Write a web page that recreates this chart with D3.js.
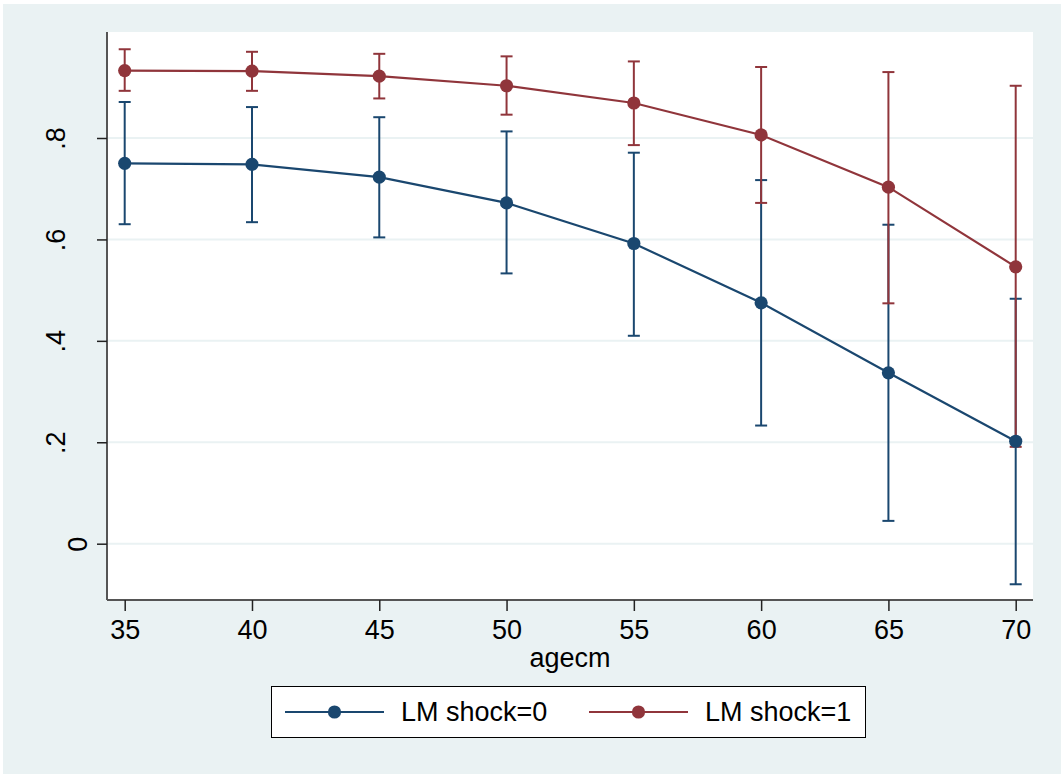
<!DOCTYPE html>
<html lang="en">
<head>
  <meta charset="UTF-8">
  <title>LM shock margins</title>
  <script src="https://cdn.jsdelivr.net/npm/d3@7"></script>
  <style>
    html, body { margin: 0; padding: 0; background: #fff; }
    text { font-family: "Liberation Sans", Arial, sans-serif; fill: #000; }
  </style>
</head>
<body>
  <svg id="chart" width="1064" height="776"></svg>
  <script>
    // data
    var ages = [35, 40, 45, 50, 55, 60, 65, 70]
    var shock0 = [0.750, 0.748, 0.723, 0.672, 0.592, 0.475, 0.337, 0.202]
    var shock0Lo = [0.630, 0.634, 0.604, 0.533, 0.410, 0.233, 0.045, -0.080]
    var shock0Hi = [0.871, 0.861, 0.841, 0.813, 0.771, 0.717, 0.629, 0.483]
    var shock1 = [0.933, 0.932, 0.922, 0.903, 0.869, 0.806, 0.703, 0.546]
    var shock1Lo = [0.893, 0.893, 0.878, 0.846, 0.786, 0.672, 0.474, 0.191]
    var shock1Hi = [0.975, 0.970, 0.966, 0.961, 0.951, 0.940, 0.930, 0.903]
    var yTicks = [0, 0.2, 0.4, 0.6, 0.8]
    var xTicks = ages
    var seriesNames = ['LM shock=0', 'LM shock=1']
    var xTitle = 'agecm'

    // colors
    var colorBlue = '#1a476f'
    var colorRed = '#90353b'
    var colorBg = '#eaf2f3'
    var colorGrid = '#eaf2f3'

    // plot region
    var plot = { left: 107, right: 1033, top: 32, bottom: 600 }

    var svg = d3.select('#chart')

    var x = d3.scaleLinear().domain([35, 70]).range([124.7, 1015.7])
    var y = d3.scaleLinear().domain([0, 0.8]).range([543.7, 138])

    // outer background and plot region
    svg.append('rect').attr('x', 3).attr('y', 4).attr('width', 1058).attr('height', 770)
      .attr('fill', colorBg)
    svg.append('rect').attr('x', plot.left).attr('y', plot.top)
      .attr('width', plot.right - plot.left).attr('height', plot.bottom - plot.top)
      .attr('fill', '#fff')

    // gridlines
    svg.append('g').selectAll('line').data(yTicks).join('line')
      .attr('x1', plot.left).attr('x2', plot.right)
      .attr('y1', function (d) { return y(d) }).attr('y2', function (d) { return y(d) })
      .attr('stroke', colorGrid).attr('stroke-width', 2)

    var series = [
      { name: seriesNames[0], color: colorBlue, mid: shock0, lo: shock0Lo, hi: shock0Hi },
      { name: seriesNames[1], color: colorRed, mid: shock1, lo: shock1Lo, hi: shock1Hi }
    ]

    // confidence intervals first
    series.forEach(function (s) {
      var g = svg.append('g').attr('stroke', s.color).attr('stroke-width', 2)
      g.selectAll('.bar').data(ages).join('line')
        .attr('x1', function (d) { return x(d) }).attr('x2', function (d) { return x(d) })
        .attr('y1', function (d, i) { return y(s.lo[i]) })
        .attr('y2', function (d, i) { return y(s.hi[i]) })
      ;['lo', 'hi'].forEach(function (k) {
        g.append('g').selectAll('line').data(ages).join('line')
          .attr('x1', function (d) { return x(d) - 6 }).attr('x2', function (d) { return x(d) + 6 })
          .attr('y1', function (d, i) { return y(s[k][i]) })
          .attr('y2', function (d, i) { return y(s[k][i]) })
      })
    })

    // connected lines and markers
    var line = d3.line()
    series.forEach(function (s) {
      var pts = ages.map(function (a, i) { return [x(a), y(s.mid[i])] })
      svg.append('path').attr('d', line(pts)).attr('fill', 'none')
        .attr('stroke', s.color).attr('stroke-width', 2.2)
      svg.append('g').selectAll('circle').data(pts).join('circle')
        .attr('cx', function (d) { return d[0] }).attr('cy', function (d) { return d[1] })
        .attr('r', 6.6).attr('fill', s.color)
    })

    // axes
    var yAxis = svg.append('g').attr('transform', 'translate(' + plot.left + ',0)')
      .call(d3.axisLeft(y).tickValues(yTicks).tickSize(10).tickPadding(0)
        .tickFormat(function (d) { return d === 0 ? '0' : d3.format('.1f')(d).replace(/^0/, '') }))
    yAxis.select('.domain').attr('d', 'M0,' + plot.top + 'V' + plot.bottom)
      .attr('stroke', '#555').attr('stroke-width', 2)
    yAxis.selectAll('.tick line').attr('stroke', '#222').attr('stroke-width', 1.5)
    yAxis.selectAll('.tick text')
      .attr('font-size', 27).attr('fill', '#000')
      .attr('text-anchor', 'middle').attr('dy', null)
      .attr('x', null)
      .attr('transform', function (d) { return 'translate(' + (d === 0 ? -20 : -42) + ',0) rotate(-90)' })

    var xAxis = svg.append('g').attr('transform', 'translate(0,' + plot.bottom + ')')
      .call(d3.axisBottom(x).tickValues(xTicks).tickSize(11).tickPadding(9))
    xAxis.select('.domain').attr('d', 'M' + plot.left + ',0H' + plot.right)
      .attr('stroke', '#555').attr('stroke-width', 2)
    xAxis.selectAll('.tick line').attr('stroke', '#222').attr('stroke-width', 1.5)
    xAxis.selectAll('.tick text').attr('font-size', 27).attr('fill', '#000')

    svg.append('text').attr('x', (plot.left + plot.right) / 2).attr('y', 667)
      .attr('text-anchor', 'middle').attr('font-size', 27).text(xTitle)

    // legend
    var legend = svg.append('g')
    legend.append('rect').attr('x', 271.5).attr('y', 686.5).attr('width', 594).attr('height', 51)
      .attr('fill', '#fff').attr('stroke', '#000').attr('stroke-width', 1)
    var legendX = [285, 589]
    series.forEach(function (s, i) {
      var g = legend.append('g').attr('transform', 'translate(' + legendX[i] + ',712)')
      g.append('line').attr('x1', 0).attr('x2', 99).attr('stroke', s.color).attr('stroke-width', 2.2)
      g.append('circle').attr('cx', 49.5).attr('r', 6.6).attr('fill', s.color)
      g.append('text').attr('x', 116).attr('y', 0).attr('dy', '0.35em')
        .attr('font-size', 27).text(s.name)
    })
  </script>
</body>
</html>
